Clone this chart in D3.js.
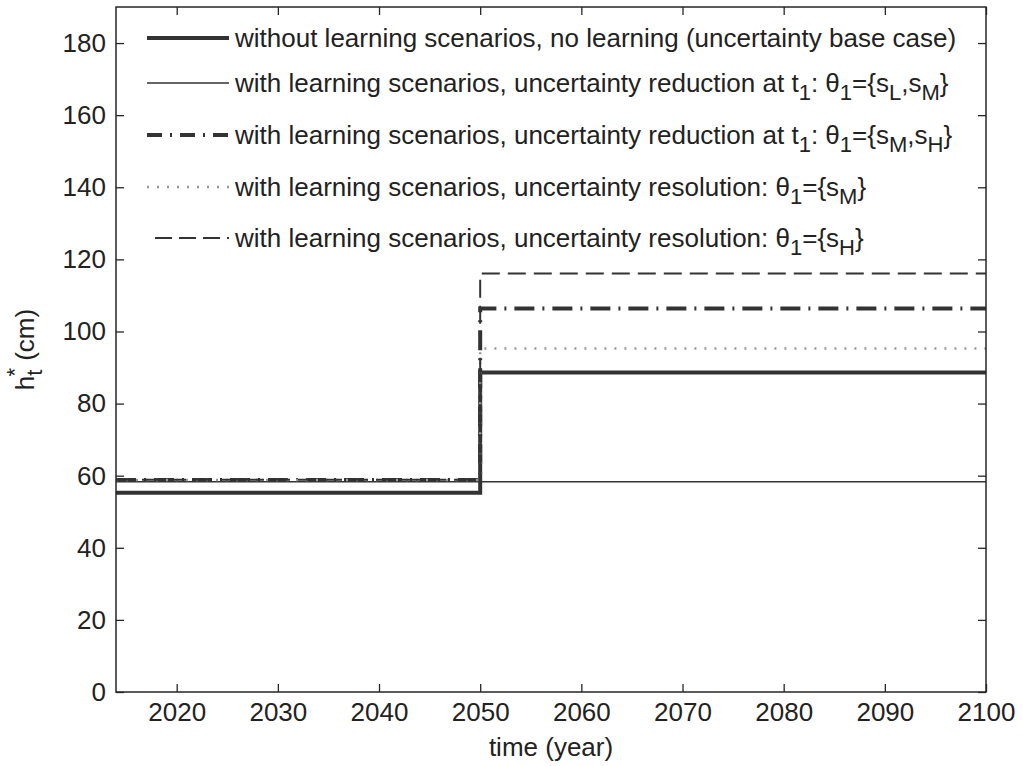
<!DOCTYPE html>
<html>
<head>
<meta charset="utf-8">
<script src="https://cdn.jsdelivr.net/npm/d3@7"></script>
<style>
  body { margin: 0; background: #fff; }
  svg text { font-family: "Liberation Sans", Arial, sans-serif; fill: #222; }
</style>
</head>
<body>
<svg id="canvas" width="1023" height="766"></svg>
<script>
// data
let years = [2014, 2050, 2100]
let baseCase    = [55.3, 88.6, 88.6]
let reductionLM = [58.3, 58.3, 58.3]
let reductionMH = [58.8, 106.4, 106.4]
let resolutionM = [58.8, 95.3, 95.3]
let resolutionH = [58.9, 116.1, 116.1]

let xTicks = [2020, 2030, 2040, 2050, 2060, 2070, 2080, 2090, 2100]
let yTicks = [0, 20, 40, 60, 80, 100, 120, 140, 160, 180]

// legend labels, split in pieces so subscripts can be shifted
let labels = [
    [["without learning scenarios, no learning (uncertainty base case)"]],
    [["with learning scenarios, uncertainty reduction at t"], ["1", 1], [": θ"], ["1", 1], ["={s"], ["L", 1], [",s"], ["M", 1], ["}"]],
    [["with learning scenarios, uncertainty reduction at t"], ["1", 1], [": θ"], ["1", 1], ["={s"], ["M", 1], [",s"], ["H", 1], ["}"]],
    [["with learning scenarios, uncertainty resolution: θ"], ["1", 1], ["={s"], ["M", 1], ["}"]],
    [["with learning scenarios, uncertainty resolution: θ"], ["1", 1], ["={s"], ["H", 1], ["}"]]
]

let series = [
    { vals: baseCase,    color: '#333', width: 4,   dash: null },
    { vals: reductionLM, color: '#333', width: 1.5, dash: null },
    { vals: reductionMH, color: '#333', width: 4,   dash: '20,8,2,8' },
    { vals: resolutionM, color: '#999', width: 2.5, dash: '2,8' },
    { vals: resolutionH, color: '#333', width: 2,   dash: '18,8' }
]

let margin = { left: 116, top: 7 }
let w = 870
let h = 685

let canvas = d3.select('#canvas')
let g = canvas.append('g')
        .attr('transform', 'translate(' + margin.left + ',' + margin.top + ')')

let x = d3.scaleLinear().domain([2014, 2100]).range([0, w])
let y = d3.scaleLinear().domain([0, 190]).range([h, 0])

let styleAxis = (sel) => {
    sel.select('.domain').remove()
    sel.selectAll('line').attr('stroke', '#262626').attr('stroke-width', 1.3)
    sel.selectAll('text').style('font-size', '26px').attr('fill', '#222')
}

g.append('g').attr('transform', 'translate(0,' + h + ')')
    .call(d3.axisBottom(x).tickValues(xTicks).tickFormat(d3.format('d'))
        .tickSizeInner(-8).tickSizeOuter(0).tickPadding(11))
    .call(styleAxis)
g.append('g')
    .call(d3.axisTop(x).tickValues(xTicks).tickFormat('').tickSizeInner(-8).tickSizeOuter(0))
    .call(styleAxis)
g.append('g')
    .call(d3.axisLeft(y).tickValues(yTicks).tickSizeInner(-8).tickSizeOuter(0).tickPadding(10))
    .call(styleAxis)
g.append('g').attr('transform', 'translate(' + w + ',0)')
    .call(d3.axisRight(y).tickValues(yTicks).tickFormat('').tickSizeInner(-8).tickSizeOuter(0))
    .call(styleAxis)

let line = d3.line()
    .x((d, i) => x(years[i]))
    .y(d => y(d))
    .curve(d3.curveStepAfter)

series.forEach(s => {
    g.append('path')
        .attr('d', line(s.vals))
        .attr('fill', 'none')
        .attr('stroke', s.color)
        .attr('stroke-width', s.width)
        .attr('stroke-dasharray', s.dash)
})

// frame
g.append('rect')
    .attr('width', w).attr('height', h)
    .attr('fill', 'none').attr('stroke', '#262626').attr('stroke-width', 1.5)

// legend (no box)
let rowY = [31, 76, 128, 180, 231]
let leg = g.selectAll('.leg').data(series).enter().append('g')
    .attr('class', 'leg')
    .attr('transform', (d, i) => 'translate(31,' + rowY[i] + ')')

leg.append('line')
    .attr('x1', (d, i) => i === 4 ? 8 : 0).attr('x2', 82)
    .attr('stroke', d => d.color)
    .attr('stroke-width', d => d.width)
    .attr('stroke-dasharray', (d, i) => i === 2 ? '15,8,2,8' : (i === 4 ? '17,7' : d.dash))

leg.each(function (d, i) {
    let t = d3.select(this).append('text')
        .attr('x', 88).attr('y', 9)
        .style('font-size', '26px')
    let shifted = false
    labels[i].forEach(p => {
        let sp = t.append('tspan').text(p[0])
        if (p[1] && !shifted) { sp.attr('dy', 8).style('font-size', '22px'); shifted = true }
        else if (p[1]) { sp.style('font-size', '22px') }
        else if (shifted) { sp.attr('dy', -8); shifted = false }
    })
})

// axis titles
canvas.append('text')
    .attr('x', margin.left + w / 2).attr('y', 756)
    .attr('text-anchor', 'middle')
    .style('font-size', '26px')
    .text('time (year)')

let yl = canvas.append('text')
    .attr('transform', 'translate(34,' + (margin.top + h / 2) + ') rotate(-90)')
    .attr('text-anchor', 'middle')
    .style('font-size', '26px')
yl.append('tspan').text('h')
yl.append('tspan').text('t').attr('dy', 8).style('font-size', '22px')
yl.append('tspan').text('*').attr('dx', -7).attr('dy', -20).style('font-size', '22px')
yl.append('tspan').text(' (cm)').attr('dy', 12)
</script>
</body>
</html>
